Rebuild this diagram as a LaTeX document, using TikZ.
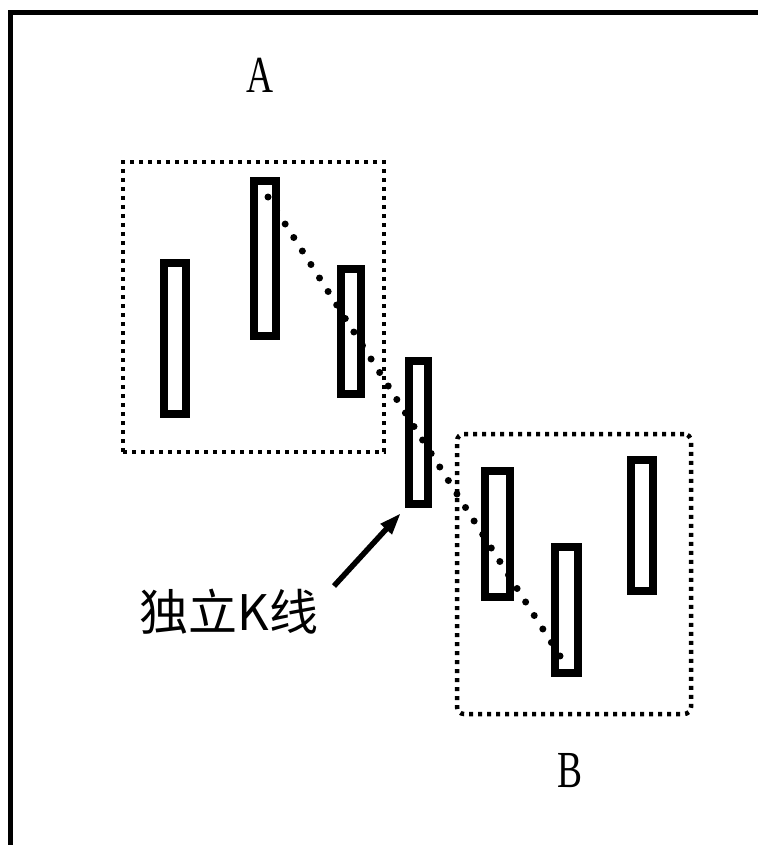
\documentclass[tikz,border=0pt]{standalone}
\usepackage{fontspec}
\setmainfont{Liberation Serif}
\newfontfamily\cjk{Noto Sans CJK SC}
\usetikzlibrary{arrows.meta,calc}
\begin{document}
\begin{tikzpicture}[x=1pt,y=-1pt,
  candle/.style={draw=black,line width=8pt,fill=white,inner sep=0pt,rectangle},
  groupbox/.style={draw=black,line width=4.5pt,dash pattern=on 4pt off 5pt},
  trend/.style={draw=black,line width=7pt,line cap=round,dash pattern=on 0pt off 16pt},
  pointer/.style={draw=black,line width=5.5pt,-{Triangle[length=22pt,width=14pt]}},
  letter/.style={font=\fontsize{52}{52}\selectfont,xscale=0.72,inner sep=0pt},
  cjklabel/.style={font=\cjk\fontsize{49}{49}\selectfont,inner sep=0pt}]
\useasboundingbox (0,0) rectangle (758,845);
\fill[white] (0,0) rectangle (758,845);
% frame
\draw[line width=5pt] (10.5,845) -- (10.5,12.5) -- (758,12.5);
% group boxes
\node[groupbox,minimum width=261pt,minimum height=290pt,inner sep=0pt] (boxA) at (253.5,307) {};
\node[groupbox,rounded corners=7pt,minimum width=234pt,minimum height=280pt,inner sep=0pt] (boxB) at (574,574) {};
% trend line end points
\coordinate (s) at (268,197);
\coordinate (e) at (567,667);
% candles
\node[candle,minimum width=22pt,minimum height=151pt] (A1) at (175,338.5) {};
\node[candle,minimum width=22pt,minimum height=155pt] (A2) at (265,258.5) {};
\node[candle,minimum width=20pt,minimum height=125pt] (A3) at (351,331.5) {};
\node[candle,minimum width=19pt,minimum height=143pt] (M) at (418.5,432.5) {};
\node[candle,minimum width=25pt,minimum height=126pt] (B1) at (497.5,534) {};
\node[candle,minimum width=23pt,minimum height=126pt] (B2) at (566.5,610) {};
\node[candle,minimum width=22pt,minimum height=131pt] (B3) at (642,525.5) {};
\draw[trend] (s) -- (e);
% labels
\node[letter] (la) at (260,75) {A};
\node[letter] (lb) at (570,771) {B};
\node[cjklabel] (lbl) at (229,612) {独立K线};
\coordinate (tail) at (334,586);
\coordinate (tip) at (401,513);
\draw[pointer] (tail) -- (tip);
\end{tikzpicture}
\end{document}
